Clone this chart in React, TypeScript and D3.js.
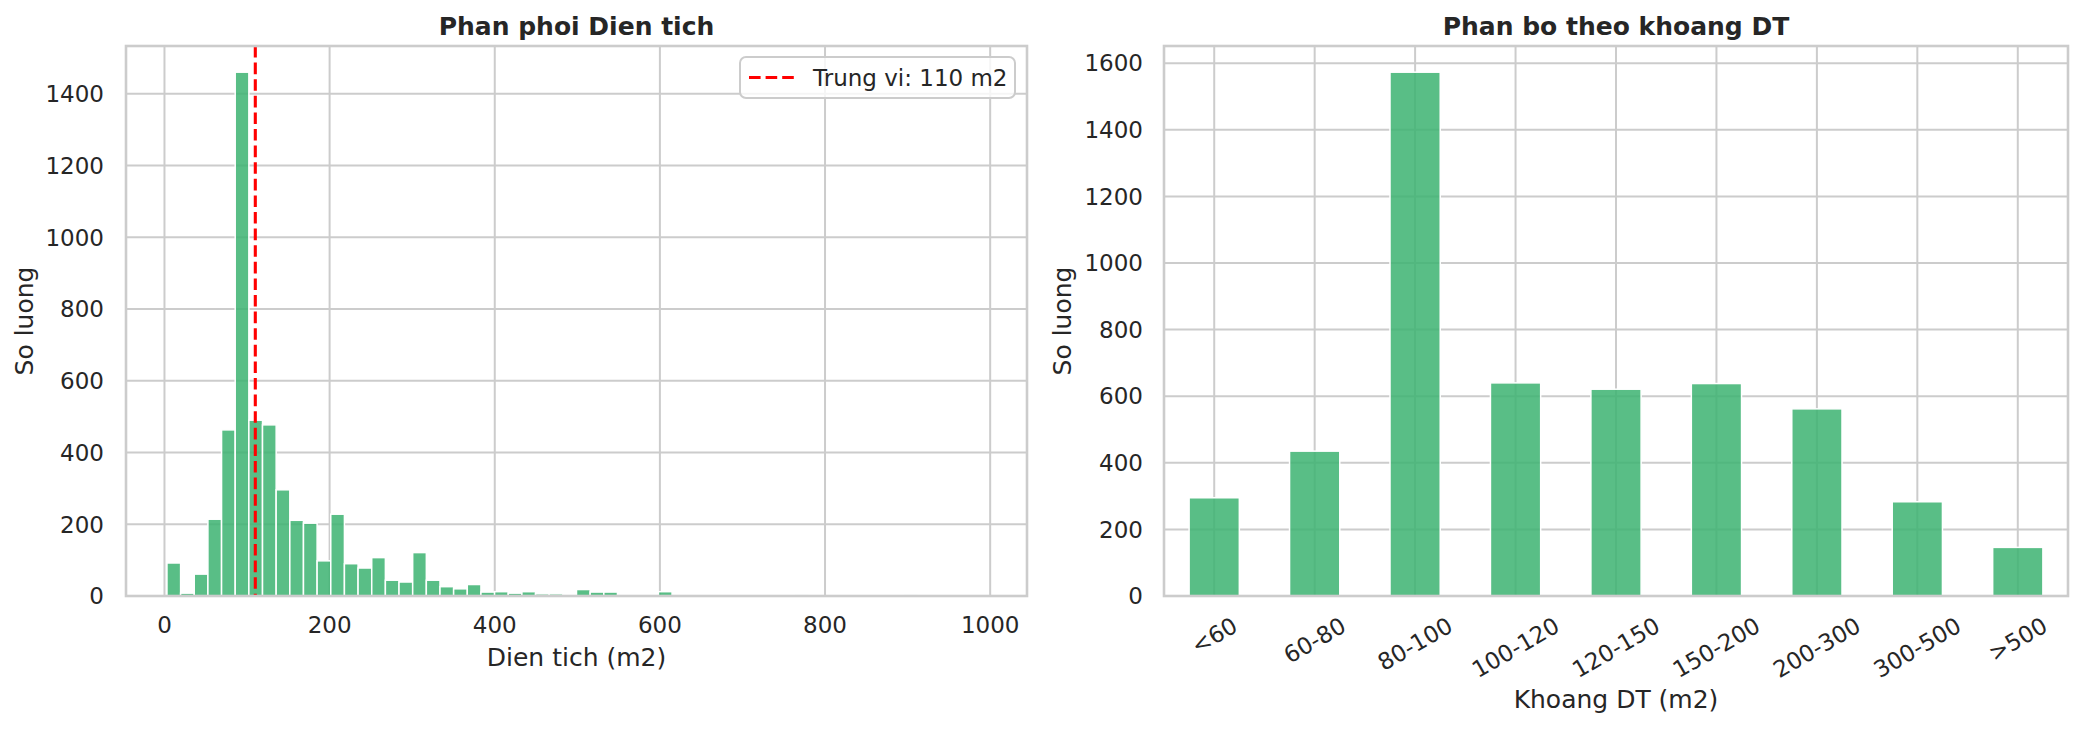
import * as d3 from "d3";

// histogram of area (m2), 60 bins between histMin and histMax
const histMin = 3;
const histMax = 995;
const histCounts = [
  92, 8, 61, 214, 463, 1460, 490, 477, 296, 211,
  203, 98, 228, 90, 78, 107, 44, 39, 121, 44,
  26, 20, 32, 11, 12, 8, 12, 6, 6, 0,
  18, 11, 11, 0, 0, 1, 12, 1, 1, 1,
  1, 0, 0, 0, 0, 0, 3, 1, 0, 0,
  0, 0, 0, 0, 3, 0, 0, 0, 0, 1,
];
const median = 110;
const histXTicks = [0, 200, 400, 600, 800, 1000];
const histYTicks = [0, 200, 400, 600, 800, 1000, 1200, 1400];

// counts per area range
const rangeLabels = ["<60", "60-80", "80-100", "100-120", "120-150", "150-200", "200-300", "300-500", ">500"];
const rangeCounts = [295, 435, 1573, 640, 621, 638, 562, 283, 146];
const rangeYTicks = [0, 200, 400, 600, 800, 1000, 1200, 1400, 1600];

const W = 2080;
const H = 730;
const FONT = "DejaVu Sans";
const TEXT = "#262626";
const GRID = "#cccccc";
const BAR = "#3cb371";
const TICK_FS = 23;
const LABEL_FS = 25;

const top = 46;
const bottom = 596;

// rough DejaVu Sans advance widths (em)
const charW = (c: string) => (c === "-" ? 0.361 : c === "<" || c === ">" ? 0.838 : 0.636);
const textW = (s: string) => s.split("").reduce((a, c) => a + charW(c), 0) * TICK_FS;

function Spines({ x0, x1 }: { x0: number; x1: number }) {
  return (
    <rect x={x0} y={top} width={x1 - x0} height={bottom - top} fill="none" stroke={GRID} strokeWidth={2.6} />
  );
}

function HistPanel() {
  const x0 = 126;
  const x1 = 1027;
  const span = histMax - histMin;
  const x = d3.scaleLinear().domain([histMin - 0.05 * span, histMax + 0.05 * span]).range([x0, x1]);
  const y = d3.scaleLinear().domain([0, (d3.max(histCounts) ?? 0) * 1.05]).range([bottom, top]);
  const binW = span / histCounts.length;
  const cx = (x0 + x1) / 2;

  return (
    <g>
      {histXTicks.map((t) => (
        <line key={"gx" + t} x1={x(t)} x2={x(t)} y1={top} y2={bottom} stroke={GRID} strokeWidth={2} />
      ))}
      {histYTicks.map((t) => (
        <line key={"gy" + t} x1={x0} x2={x1} y1={y(t)} y2={y(t)} stroke={GRID} strokeWidth={2} />
      ))}
      {histCounts.map((c, i) => {
        const a = histMin + i * binW;
        return (
          <rect
            key={i}
            x={x(a)}
            width={x(a + binW) - x(a)}
            y={y(c)}
            height={bottom - y(c)}
            fill={BAR}
            fillOpacity={0.85}
            stroke="#ffffff"
            strokeWidth={1.5}
          />
        );
      })}
      <line
        x1={x(median)}
        x2={x(median)}
        y1={top}
        y2={bottom}
        stroke="#ff0000"
        strokeWidth={3.1}
        strokeDasharray="11.6 5"
      />
      <Spines x0={x0} x1={x1} />
      {histXTicks.map((t) => (
        <text key={"tx" + t} x={x(t)} y={633} textAnchor="middle" fontSize={TICK_FS} fill={TEXT}>
          {t}
        </text>
      ))}
      {histYTicks.map((t) => (
        <text key={"ty" + t} x={104} y={y(t) + 8.3} textAnchor="end" fontSize={TICK_FS} fill={TEXT}>
          {t}
        </text>
      ))}
      <text x={cx} y={35} textAnchor="middle" fontSize={LABEL_FS} fontWeight="bold" fill={TEXT}>
        Phan phoi Dien tich
      </text>
      <text x={cx} y={666} textAnchor="middle" fontSize={LABEL_FS} fill={TEXT}>
        Dien tich (m2)
      </text>
      <text transform={`translate(33,${(top + bottom) / 2}) rotate(-90)`} textAnchor="middle" fontSize={LABEL_FS} fill={TEXT}>
        So luong
      </text>
      {/* legend */}
      <rect x={740} y={57} width={275} height={41} rx={6} fill="#ffffff" fillOpacity={0.8} stroke={GRID} strokeWidth={2} />
      <line x1={749} x2={794} y1={77.5} y2={77.5} stroke="#ff0000" strokeWidth={3.1} strokeDasharray="11.6 5" />
      <text x={813} y={85.5} fontSize={TICK_FS} fill={TEXT}>
        Trung vi: 110 m2
      </text>
    </g>
  );
}

function RangePanel() {
  const x0 = 1164;
  const x1 = 2068;
  const x = d3.scaleLinear().domain([-0.5, rangeLabels.length - 0.5]).range([x0, x1]);
  const y = d3.scaleLinear().domain([0, (d3.max(rangeCounts) ?? 0) * 1.05]).range([bottom, top]);
  const cx = (x0 + x1) / 2;
  const half = 0.25;

  return (
    <g>
      {rangeLabels.map((_, i) => (
        <line key={"gx" + i} x1={x(i)} x2={x(i)} y1={top} y2={bottom} stroke={GRID} strokeWidth={2} />
      ))}
      {rangeYTicks.map((t) => (
        <line key={"gy" + t} x1={x0} x2={x1} y1={y(t)} y2={y(t)} stroke={GRID} strokeWidth={2} />
      ))}
      {rangeCounts.map((c, i) => (
        <rect
          key={i}
          x={x(i - half)}
          width={x(i + half) - x(i - half)}
          y={y(c)}
          height={bottom - y(c)}
          fill={BAR}
          fillOpacity={0.85}
          stroke="#ffffff"
          strokeWidth={1.5}
        />
      ))}
      <Spines x0={x0} x1={x1} />
      {rangeLabels.map((l, i) => {
        const w = textW(l);
        const h = 1.164 * TICK_FS;
        const cy = 612 + (w * 0.5 + h * 0.866) / 2;
        return (
          <text
            key={"tx" + l}
            transform={`translate(${x(i)},${cy}) rotate(-30)`}
            y={0.346 * TICK_FS}
            textAnchor="middle"
            fontSize={TICK_FS}
            fill={TEXT}
          >
            {l}
          </text>
        );
      })}
      {rangeYTicks.map((t) => (
        <text key={"ty" + t} x={1143} y={y(t) + 8.3} textAnchor="end" fontSize={TICK_FS} fill={TEXT}>
          {t}
        </text>
      ))}
      <text x={cx} y={35} textAnchor="middle" fontSize={LABEL_FS} fontWeight="bold" fill={TEXT}>
        Phan bo theo khoang DT
      </text>
      <text x={cx} y={708} textAnchor="middle" fontSize={LABEL_FS} fill={TEXT}>
        Khoang DT (m2)
      </text>
      <text transform={`translate(1071,${(top + bottom) / 2}) rotate(-90)`} textAnchor="middle" fontSize={LABEL_FS} fill={TEXT}>
        So luong
      </text>
    </g>
  );
}

export default function App() {
  return (
    <svg
      width={W}
      height={H}
      style={{ position: "absolute", left: 0, top: 0, background: "#ffffff" }}
      fontFamily={FONT}
    >
      <rect width={W} height={H} fill="#ffffff" />
      <HistPanel />
      <RangePanel />
    </svg>
  );
}
